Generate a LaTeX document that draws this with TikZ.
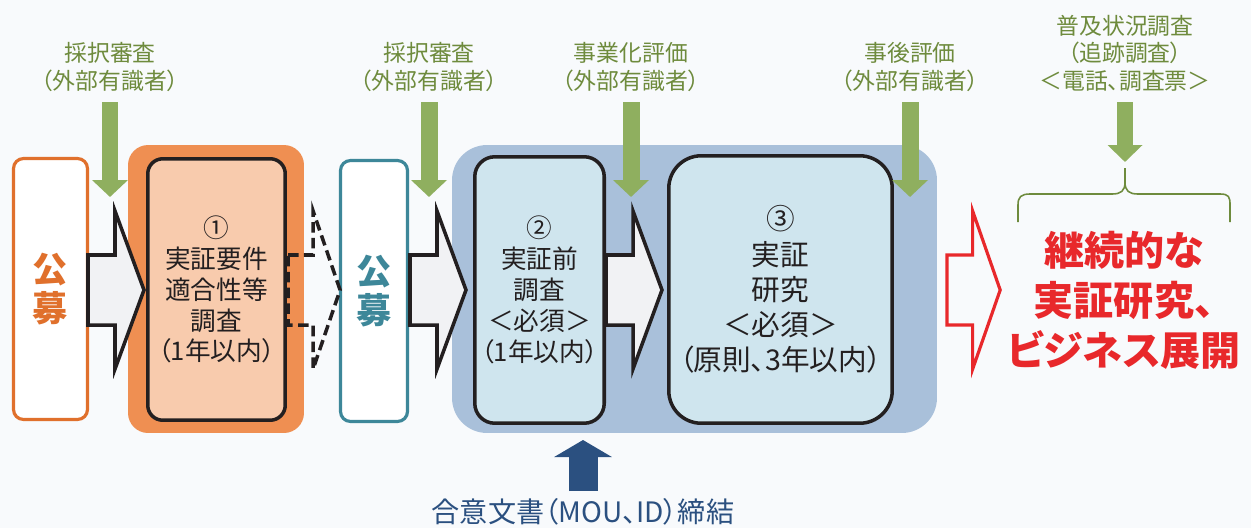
\documentclass[tikz,border=0pt]{standalone}
\usepackage{fontspec}
\setmainfont{Noto Sans CJK JP}[RawFeature=+palt]
\usetikzlibrary{arrows.meta}
\usetikzlibrary{calc}

\definecolor{PageBg}{RGB}{248,250,252}
\definecolor{BoxInk}{RGB}{35,31,32}
\definecolor{KoboOrange}{RGB}{224,112,44}
\definecolor{StepOrange}{RGB}{239,143,82}
\definecolor{Peach}{RGB}{248,203,173}
\definecolor{KoboTeal}{RGB}{61,135,153}
\definecolor{PhaseBlue}{RGB}{169,192,218}
\definecolor{PaleBlue}{RGB}{207,229,238}
\definecolor{ArrowGreen}{RGB}{143,175,95}
\definecolor{LabelGreen}{RGB}{110,139,61}
\definecolor{GoalRed}{RGB}{232,40,43}
\definecolor{MouBlue}{RGB}{43,80,128}
\definecolor{ArrowFill}{RGB}{241,242,244}

\newcommand{\drawBlockArrow}[2]{
	\filldraw[line width=2pt, line join=miter, shift={(#1)}, #2]
		(0,-35) -- (27,-35) -- (27,-79) -- (56,0) -- (27,79) -- (27,35) -- (0,35) -- cycle;
}
\newcommand{\drawGreenArrow}[2]{
	\draw[draw=ArrowGreen, line width=0.34cm, -{Triangle[width=0.7cm,length=0.34cm]}] (#1) -- (#2);
}

\begin{document}
\begin{tikzpicture}[x=0.02cm, y=-0.02cm,
	box text/.style={font=\fontsize{14.6}{17.6}\selectfont, text=BoxInk, align=center, inner sep=0pt},
	kobo text/.style={font=\fontsize{20}{22}\selectfont\bfseries, align=center, inner sep=0pt},
	green label/.style={font=\fontsize{13}{16.2}\selectfont, text=LabelGreen, align=center, inner sep=0pt}]

	\fill[PageBg] (0,0) rectangle (1251,528);

	\coordinate (AR1_L) at (88,290);
	\coordinate (AR2_L) at (410,290);
	\coordinate (AR3_L) at (606,290);
	\coordinate (AR4_L) at (288,290);
	\coordinate (AR5_L) at (947,290);

	\coordinate (G1_T) at (110,102);
	\coordinate (G1_B) at (110,197);
	\coordinate (G2_T) at (429,102);
	\coordinate (G2_B) at (429,197);
	\coordinate (G3_T) at (631,102);
	\coordinate (G3_B) at (631,197);
	\coordinate (G4_T) at (910,102);
	\coordinate (G4_B) at (910,197);
	\coordinate (G5_T) at (1125,102);
	\coordinate (G5_B) at (1125,162);
	\coordinate (MOU_T) at (583,440);

	% phase frames
	\node[fill=StepOrange, rounded corners=0.4cm, minimum width=3.52cm, minimum height=5.76cm, inner sep=0pt] (frame1) at (216,289) {};
	\node[fill=PhaseBlue, rounded corners=0.7cm, minimum width=9.7cm, minimum height=5.76cm, inner sep=0pt] (frame2) at (694.5,289) {};

	% boxes
	\node[draw=KoboOrange, line width=1.8pt, fill=white, rounded corners=0.2cm, minimum width=1.48cm, minimum height=5.22cm, kobo text, text=KoboOrange] (kobo1) at (50.5,289) {公\\募};
	\node[draw=BoxInk, line width=2pt, fill=Peach, rounded corners=0.3cm, minimum width=2.75cm, minimum height=5.23cm, box text] (step1) at (216.5,289.5) {①\\実証要件\\適合性等\\調査\\（1年以内）};
	\node[draw=KoboTeal, line width=1.8pt, fill=white, rounded corners=0.2cm, minimum width=1.34cm, minimum height=5.22cm, kobo text, text=KoboTeal] (kobo2) at (374,291) {公\\募};
	\node[draw=BoxInk, line width=2pt, fill=PaleBlue, rounded corners=0.4cm, minimum width=2.59cm, minimum height=5.33cm, box text] (step2) at (539.5,290) {②\\実証前\\調査\\＜必須＞\\（1年以内）};
	\node[draw=BoxInk, line width=2pt, fill=PaleBlue, rounded corners=0.65cm, minimum width=4.47cm, minimum height=5.35cm, box text, font=\fontsize{16.3}{20}\selectfont] (step3) at (780.5,289.5) {③\\実証\\研究\\＜必須＞\\（原則、3年以内）};

	% block arrows
	\drawBlockArrow{AR1_L}{draw=BoxInk, fill=ArrowFill}
	\drawBlockArrow{AR2_L}{draw=BoxInk, fill=ArrowFill}
	\drawBlockArrow{AR3_L}{draw=BoxInk, fill=ArrowFill}
	\drawBlockArrow{AR4_L}{draw=BoxInk, fill=none, xscale=0.93, dash pattern=on 6pt off 3pt}
	\drawBlockArrow{AR5_L}{draw=GoalRed, fill=PageBg, xscale=0.95, line width=1.8pt}

	% reviews
	\node[green label] (rev1) at (110,67) {採択審査\\（外部有識者）};
	\node[green label] (rev2) at (429,67) {採択審査\\（外部有識者）};
	\node[green label] (rev3) at (631,67) {事業化評価\\（外部有識者）};
	\node[green label] (rev4) at (910,67) {事後評価\\（外部有識者）};
	\node[green label, font=\fontsize{13}{15.6}\selectfont] (rev5) at (1125,53) {普及状況調査\\（追跡調査）\\＜電話、調査票＞};

	\drawGreenArrow{G1_T}{G1_B}
	\drawGreenArrow{G2_T}{G2_B}
	\drawGreenArrow{G3_T}{G3_B}
	\drawGreenArrow{G4_T}{G4_B}
	\draw[draw=ArrowGreen, line width=0.32cm, -{Triangle[width=0.68cm,length=0.34cm]}] (G5_T) -- (G5_B);

	% brace
	\draw[LabelGreen, line width=0.9pt]
		(1018,222) -- (1018,205) .. controls (1018,197) and (1021,194) .. (1030,194) -- (1112,194)
		.. controls (1121,194) and (1125,191) .. (1125,182) -- (1125,168);
	\draw[LabelGreen, line width=0.9pt]
		(1125,182) .. controls (1125,191) and (1129,194) .. (1138,194) -- (1220,194)
		.. controls (1229,194) and (1230,197) .. (1230,205) -- (1230,222);

	\node[font=\fontsize{22.8}{28.5}\selectfont\bfseries, text=GoalRed, align=center, inner sep=0pt] (goal) at (1124,300) {継続的な\\実証研究、\\ビジネス展開};

	% agreement
	\node[font=\fontsize{16}{18}\selectfont, text=MouBlue, inner sep=0pt] (mou) at (583,512) {合意文書（MOU、ID）締結};
	\draw[draw=MouBlue, line width=0.58cm, -{Triangle[width=1.14cm,length=0.34cm]}] (583,491) -- (MOU_T);

\end{tikzpicture}
\end{document}
